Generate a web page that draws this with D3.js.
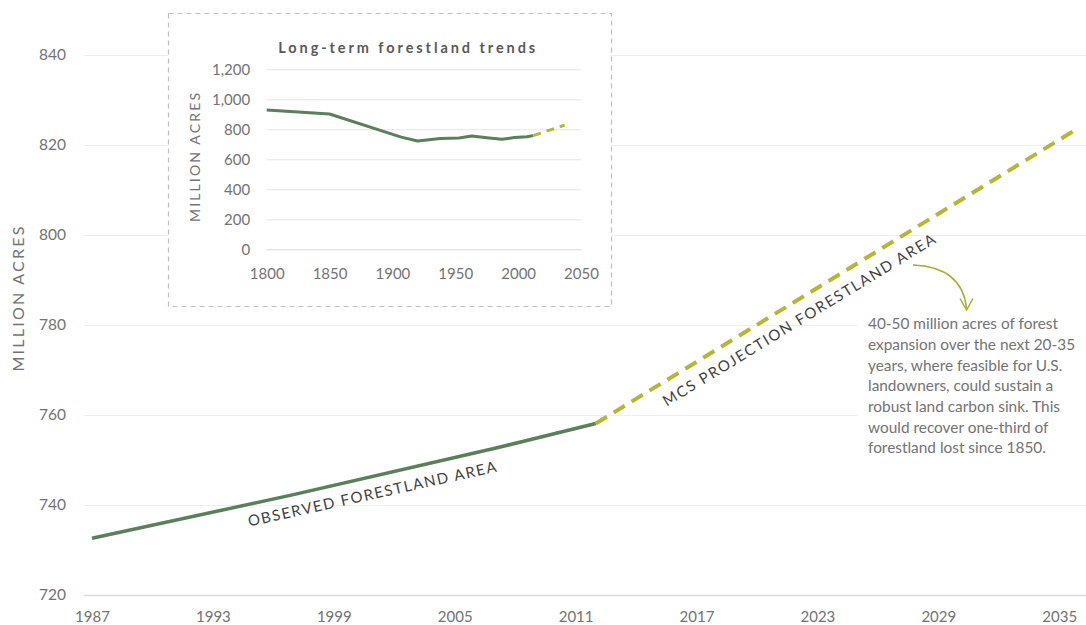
<!DOCTYPE html>
<html>
<head>
<meta charset="utf-8">
<script src="https://cdn.jsdelivr.net/npm/d3@7"></script>
<style>
  html, body { margin: 0; padding: 0; background: #fff; }
  svg { display: block; font-family: Lato, "Open Sans", sans-serif; }
</style>
</head>
<body>
<svg id="chart" width="1086" height="625"></svg>
<script>
// ---------- data ----------
const xTickYears = [1987, 1993, 1999, 2005, 2011, 2017, 2023, 2029, 2035];
const yTickValues = [720, 740, 760, 780, 800, 820, 840];
const observedYears = [1987, 1997, 2007, 2012];
const observedValues = [732.6, 742.3, 752.6, 758.1];
const projectionYears = [2012, 2036];
const projectionValues = [758.1, 823.9];

const insetXTicks = [1800, 1850, 1900, 1950, 2000, 2050];
const insetYTicks = [0, 200, 400, 600, 800, 1000, 1200];
const insetObsYears = [1800, 1850, 1907, 1920, 1938, 1953, 1963, 1977, 1987, 1997, 2007, 2012];
const insetObsValues = [928, 902, 748, 722, 738, 742, 755, 742, 733, 745, 750, 758];
const insetProjYears = [2012, 2037];
const insetProjValues = [758, 828];

const annotationLines = [
  "40-50 million acres of forest",
  "expansion over the next 20-35",
  "years, where feasible for U.S.",
  "landowners, could sustain a",
  "robust land carbon sink. This",
  "would recover one-third of",
  "forestland lost since 1850."
];

// ---------- setup ----------
const svg = d3.select("#chart");
const GREEN = "#5a7f5a", OLIVE = "#b4b734", GREY = "#737373", DARK = "#3f3f3f";

const x = d3.scaleLinear().domain([1987, 2035]).range([92, 92 + 48 * 20.15]);
const y = d3.scaleLinear().domain([720, 840]).range([595, 55]);

// main y axis + gridlines
const yAxis = svg.append("g")
  .attr("transform", "translate(84,0)")
  .call(d3.axisLeft(y).tickValues(yTickValues).tickSize(-(1086 - 84)).tickPadding(18));
yAxis.select(".domain").remove();
yAxis.selectAll(".tick line").attr("stroke", d => d === 720 ? "#d9d9d9" : "#efefef")
  .attr("stroke-width", d => d === 720 ? 1.5 : 1);
yAxis.selectAll(".tick text").attr("fill", GREY).style("font-size", "15.5px")
  .style("font-family", "Lato, sans-serif");

// main x axis
const xAxis = svg.append("g")
  .attr("transform", "translate(0,595)")
  .call(d3.axisBottom(x).tickValues(xTickYears).tickFormat(d3.format("d")).tickSize(0).tickPadding(0));
xAxis.select(".domain").remove();
xAxis.selectAll(".tick text").attr("fill", GREY).attr("y", 27).attr("dy", 0)
  .style("font-size", "15px").style("font-family", "Lato, sans-serif");

// y-axis title
svg.append("text")
  .attr("transform", "translate(18,299) rotate(-90)")
  .attr("text-anchor", "middle").attr("dy", "0.35em")
  .attr("fill", GREY).style("font-size", "16px")
  .attr("textLength", 145).attr("lengthAdjust", "spacing")
  .text("MILLION ACRES");

// annotation white background (covers gridlines)
svg.append("rect").attr("x", 857).attr("y", 300).attr("width", 229).attr("height", 160).attr("fill", "#fff");

// lines
const line = d3.line().x(d => x(d[0])).y(d => y(d[1]));
svg.append("path")
  .datum(observedYears.map((yr, i) => [yr, observedValues[i]]))
  .attr("d", line).attr("fill", "none").attr("stroke", GREEN)
  .attr("stroke-width", 3.5).attr("stroke-linejoin", "round");
svg.append("path")
  .datum(projectionYears.map((yr, i) => [yr, projectionValues[i]]))
  .attr("d", line).attr("fill", "none").attr("stroke", OLIVE)
  .attr("stroke-width", 4).attr("stroke-dasharray", "13,8");

// line labels
svg.append("text")
  .attr("transform", "translate(372,494) rotate(-12.5)")
  .attr("text-anchor", "middle").attr("dy", "0.35em")
  .attr("fill", DARK).style("font-size", "15px")
  .attr("textLength", 254).attr("lengthAdjust", "spacing")
  .text("OBSERVED FORESTLAND AREA");
svg.append("text")
  .attr("transform", "translate(799,320) rotate(-31.4)")
  .attr("text-anchor", "middle").attr("dy", "0.35em")
  .attr("fill", DARK).style("font-size", "15px")
  .attr("textLength", 316).attr("lengthAdjust", "spacing")
  .text("MCS PROJECTION FORESTLAND AREA");

// annotation text
const ann = svg.append("text").attr("fill", GREY).style("font-size", "15.4px");
annotationLines.forEach((t, i) => {
  ann.append("tspan").attr("x", 868).attr("y", 329.3 + i * 20.67).text(t);
});

// arrow
svg.append("path").attr("d", "M913,265 Q962,267 966.5,308")
  .attr("fill", "none").attr("stroke", "#a9ac2e").attr("stroke-width", 1.5);
svg.append("path").attr("d", "M960,298.5 L966.6,310 L973,298.5")
  .attr("fill", "none").attr("stroke", "#a9ac2e").attr("stroke-width", 1.5);

// ---------- inset ----------
const inset = svg.append("g");
inset.append("rect").attr("x", 168.5).attr("y", 13.5).attr("width", 443).attr("height", 293)
  .attr("fill", "#fff").attr("stroke", "#bfbfbf").attr("stroke-width", 1.2)
  .attr("stroke-dasharray", "5,4");

const xi = d3.scaleLinear().domain([1800, 2050]).range([266.7, 581]);
const yi = d3.scaleLinear().domain([0, 1200]).range([249.3, 69.3]);

const yiAxis = inset.append("g")
  .attr("transform", "translate(266.7,0)")
  .call(d3.axisLeft(yi).tickValues(insetYTicks).tickFormat(d3.format(",")).tickSize(-(581 - 266.7)).tickPadding(16.5));
yiAxis.select(".domain").remove();
yiAxis.selectAll(".tick line").attr("stroke", d => d === 0 ? "#d9d9d9" : "#e6e6e6");
yiAxis.selectAll(".tick text").attr("fill", GREY).style("font-size", "15px")
  .style("font-family", "Lato, sans-serif");

const xiAxis = inset.append("g")
  .attr("transform", "translate(0,249.3)")
  .call(d3.axisBottom(xi).tickValues(insetXTicks).tickFormat(d3.format("d")).tickSize(0).tickPadding(0));
xiAxis.select(".domain").remove();
xiAxis.selectAll(".tick text").attr("fill", GREY).attr("y", 29.5).attr("dy", 0)
  .style("font-size", "15px").style("font-family", "Lato, sans-serif");

inset.append("text")
  .attr("transform", "translate(195,157.5) rotate(-90)")
  .attr("text-anchor", "middle").attr("dy", "0.35em")
  .attr("fill", GREY).style("font-size", "14px")
  .attr("textLength", 129).attr("lengthAdjust", "spacing")
  .text("MILLION ACRES");

inset.append("text")
  .attr("x", 406.7).attr("y", 52.7).attr("text-anchor", "middle")
  .attr("fill", "#595959").style("font-size", "14.5px").style("font-weight", "bold")
  .attr("textLength", 257).attr("lengthAdjust", "spacing")
  .text("Long-term forestland trends");

const lineI = d3.line().x(d => xi(d[0])).y(d => yi(d[1]));
inset.append("path")
  .datum(insetObsYears.map((yr, i) => [yr, insetObsValues[i]]))
  .attr("d", lineI).attr("fill", "none").attr("stroke", GREEN)
  .attr("stroke-width", 3).attr("stroke-linejoin", "round");
inset.append("path")
  .datum(insetProjYears.map((yr, i) => [yr, insetProjValues[i]]))
  .attr("d", lineI).attr("fill", "none").attr("stroke", OLIVE)
  .attr("stroke-width", 3).attr("stroke-dasharray", "8,6");
</script>
</body>
</html>
